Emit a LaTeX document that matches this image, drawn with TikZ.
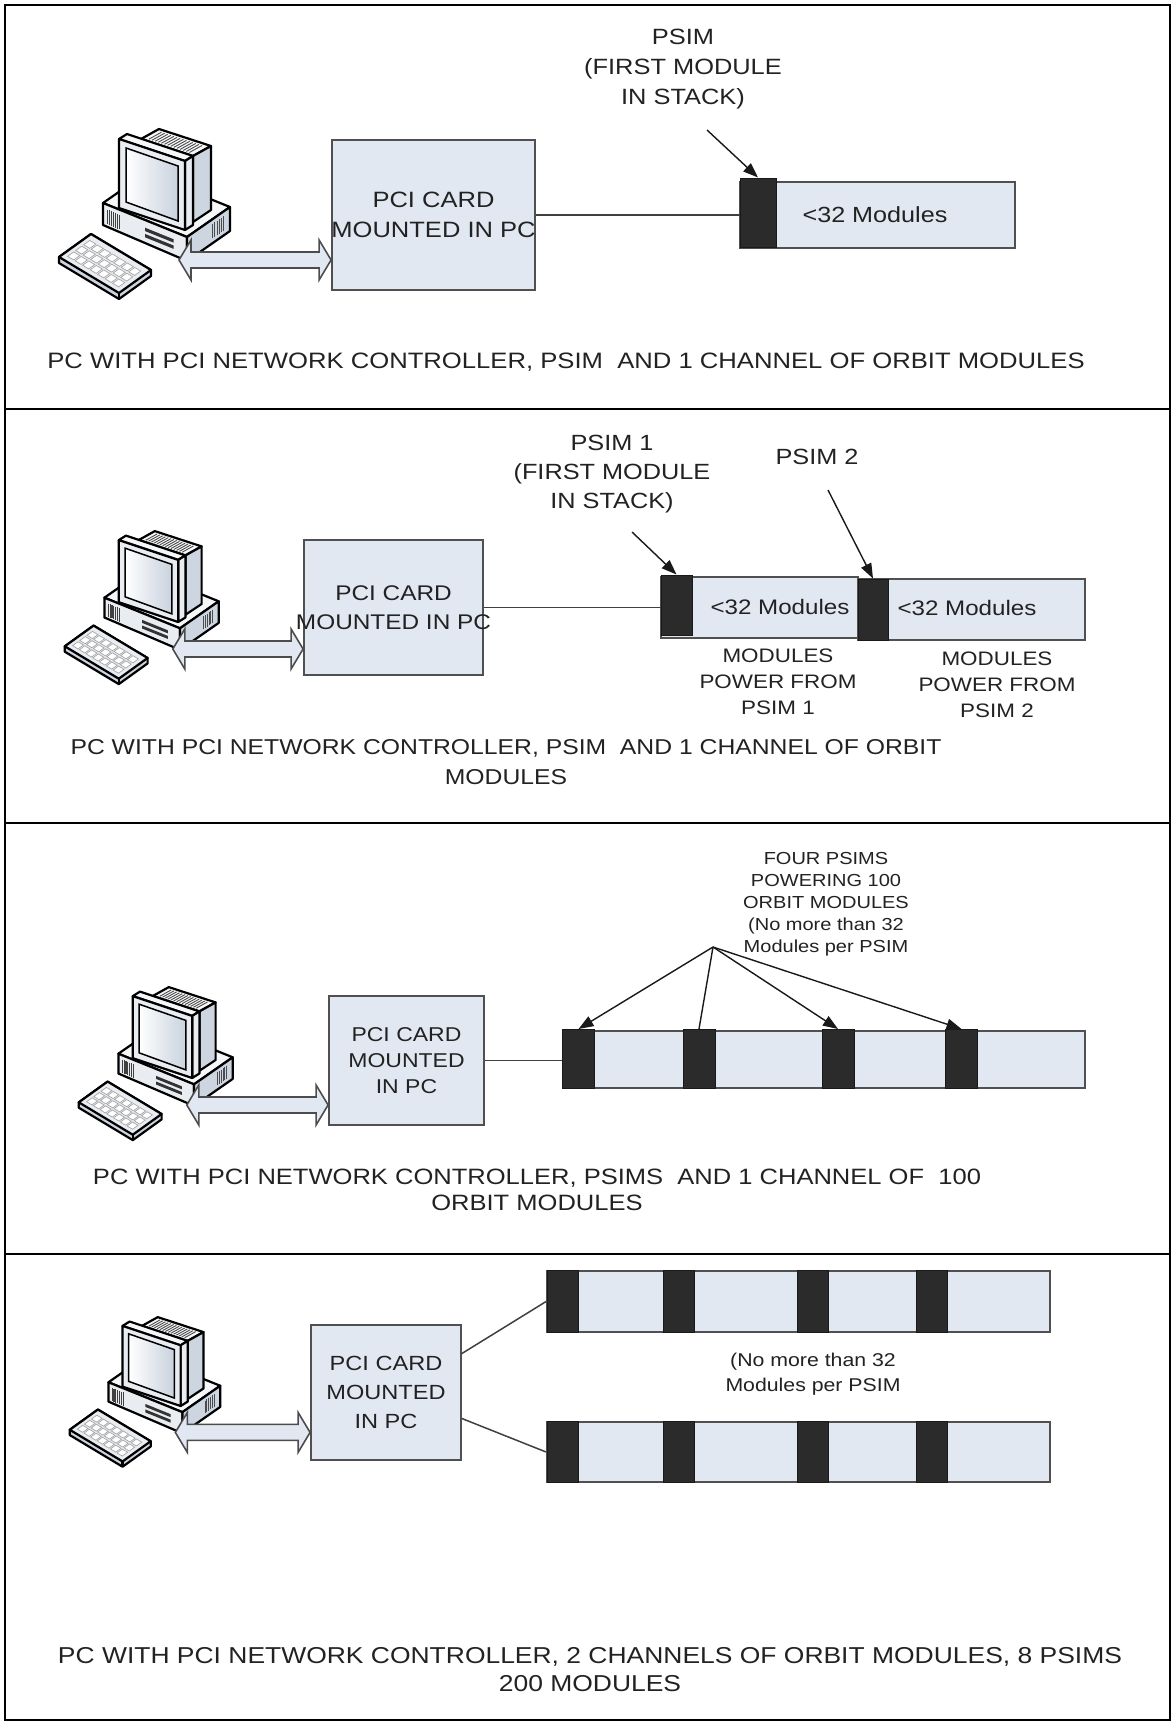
\documentclass[tikz,border=0pt]{standalone}
\usepackage{fontspec}
\setmainfont[FakeStretch=1.15]{Liberation Sans}
\usetikzlibrary{calc,arrows.meta}

\definecolor{modfill}{HTML}{E2E8F2}
\definecolor{psimfill}{HTML}{2B2B2B}
\definecolor{boxline}{HTML}{505050}
\definecolor{txt}{HTML}{222222}
\definecolor{pcface}{HTML}{E9EDF2}
\definecolor{pcside}{HTML}{CCD5E0}
\definecolor{pctop}{HTML}{F6F7F9}
\definecolor{pcscreen}{HTML}{C9D2DE}

\newcommand\setfs[2]{\fontsize{#1}{#2}\selectfont}

\tikzset{
  panelrule/.style={draw=black, line width=2.6pt},
  cardbox/.style={draw=boxline, line width=1.8pt, fill=modfill, inner sep=0pt},
  modbar/.style={draw=boxline, line width=1.8pt, fill=modfill, inner sep=0pt},
  psimblock/.style={draw=black!90, line width=1pt, fill=psimfill, inner sep=0pt},
  lbl/.style={text=txt, align=center, inner sep=0pt},
  wire/.style={draw=black!75, line width=1.5pt},
  pointer/.style={draw=black!90, line width=1.4pt, -{Triangle[length=15pt,width=11pt]}},
  pointerplain/.style={draw=black!90, line width=1.4pt},
  pcline/.style={draw=black, line width=2.2pt, line join=round},
  hollow/.style={draw=black!70, line width=1.6pt, fill=modfill, line join=miter},
}

% hollow two-headed arrow between two points on one horizontal line
\newcommand\hollowarrow[2]{%
  \path[hollow] let \p1=(#1), \p2=(#2) in
    (\x1,\y1) -- (\x1+12pt,\y1+20pt) -- (\x1+12pt,\y1+8pt) -- (\x2-12pt,\y1+8pt)
    -- (\x2-12pt,\y1+20pt) -- (\x2,\y1) -- (\x2-12pt,\y1-20pt) -- (\x2-12pt,\y1-8pt)
    -- (\x1+12pt,\y1-8pt) -- (\x1+12pt,\y1-20pt) -- cycle;}

% desktop computer: #1 name, #2 top-left corner, #3 scale
\newcommand\pcicon[3]{%
\begin{scope}[shift={#2}, scale=#3]
  % keyboard
  \path[pcline, fill=pcside] (2,127) -- (34,104) -- (94,140) -- (94,146) -- (62,169) -- (2,133) -- cycle;
  \path[pcline, fill=pcface] (2,127) -- (34,104) -- (94,140) -- (62,163) -- cycle;
  \draw[pcline] (62,163) -- (62,169);
  \begin{scope}[shift={(2,127)}, x={(32pt,23pt)}, y={(60pt,-36pt)}]
    \foreach \i in {0,1,2}{\foreach \j in {0,...,6}{%
      \pgfmathsetmacro\ka{0.14+0.25*\i}%
      \pgfmathsetmacro\kb{0.07+0.125*\j}%
      \path[draw=black!35, line width=0.7pt, fill=white]
        (\ka,\kb) -- (\ka+0.19,\kb) -- (\ka+0.19,\kb+0.1) -- (\ka,\kb+0.1) -- cycle;}}
  \end{scope}
  % system unit
  \path[pcline, fill=pctop] (46,73) -- (89,43) -- (173,77) -- (130,107) -- cycle;
  \path[pcline, fill=pcface] (46,73) -- (130,107) -- (130,131) -- (46,95) -- cycle;
  \path[pcline, fill=pcside] (130,107) -- (173,77) -- (173,101) -- (130,131) -- cycle;
  \begin{scope}[shift={(46,73)}, x={(84pt,-34pt)}, y={(0pt,-24pt)}]
    \foreach \a in {0.05,0.075,...,0.21}
      \draw[black!75, line width=1.1pt] (\a,0.2) -- (\a,0.82);
    \path[fill=black!80] (0.5,0.32) -- (0.84,0.32) -- (0.84,0.46) -- (0.5,0.46) -- cycle;
    \path[fill=black!80] (0.5,0.58) -- (0.84,0.58) -- (0.84,0.72) -- (0.5,0.72) -- cycle;
  \end{scope}
  \begin{scope}[shift={(130,107)}, x={(43pt,30pt)}, y={(0pt,-24pt)}]
    \foreach \a in {0.6,0.65,...,0.86}
      \draw[black!70, line width=1pt] (\a,0.2) -- (\a,0.8);
  \end{scope}
  % monitor housing with vents
  \path[pcline, fill=pctop] (84,9) -- (102,-1) -- (154,16) -- (136,26) -- cycle;
  \begin{scope}[shift={(84,9)}, x={(18pt,10pt)}, y={(52pt,-17pt)}]
    \foreach \b in {0.1,0.16,...,0.9}
      \draw[black!70, line width=0.9pt] (0.15,\b) -- (0.85,\b);
  \end{scope}
  \path[pcline, fill=pcside] (136,26) -- (154,16) -- (154,80) -- (136,92) -- cycle;
  % monitor bezel and screen
  \path[pcline, fill=pctop] (62,9) -- (70,4) -- (136,26) -- (128,31) -- cycle;
  \path[pcline, fill=pcface] (128,31) -- (136,26) -- (136,95) -- (128,100) -- cycle;
  \path[pcline, fill=pcface] (62,9) -- (128,31) -- (128,100) -- (62,78) -- cycle;
  \path[draw=black, line width=1.5pt, left color=white, right color=pcscreen]
    (69,18) -- (121,36) -- (121,91) -- (69,72) -- cycle;
  \coordinate (#1-port) at (122,130);
\end{scope}}

\begin{document}
\begin{tikzpicture}[x=1pt, y=-1pt]
\useasboundingbox (0,0) rectangle (1173,1724);
\fill[white] (0,0) rectangle (1173,1724);

% frame and panel separators
\draw[panelrule] (5,5) rectangle (1170,1720);
\draw[panelrule] (5,409) -- (1170,409);
\draw[panelrule] (5,823) -- (1170,823);
\draw[panelrule] (5,1254) -- (1170,1254);

%% panel 1: one PSIM
\pcicon{pc1}{(57,130)}{1}
\node[cardbox, minimum width=203pt, minimum height=150pt] (pci1) at (433.5,215) {};
\node[lbl, font=\setfs{22.2}{30}] (pci1txt) at (pci1.center) {PCI CARD\\MOUNTED IN PC};
\node[modbar, minimum width=275pt, minimum height=66pt] (chain1) at (877.5,215) {};
\node[psimblock, minimum width=36pt, minimum height=69pt] (psim1) at (758,212.5) {};
\node[lbl, font=\setfs{21.9}{26}] (mods1) at (875,215) {<32 Modules};
\node[lbl, font=\setfs{22.1}{30}] (lab1) at (683,69) {PSIM\\(FIRST MODULE\\IN STACK)};
\coordinate (lab1tail) at (707,130);
\draw[pointer] (lab1tail) -- (psim1.north);
\draw[wire] (pci1.east) -- (pci1.east -| psim1.west);
\hollowarrow{pc1-port}{pc1-port -| pci1.west}
\node[lbl, font=\setfs{22.3}{28}] (cap1) at (566,362) {PC WITH PCI NETWORK CONTROLLER, PSIM\ \ AND 1 CHANNEL OF ORBIT MODULES};

%% panel 2: two PSIMs
\pcicon{pc2}{(63,532)}{0.9}
\node[cardbox, minimum width=179pt, minimum height=135pt] (pci2) at (393.5,607.5) {};
\node[lbl, font=\setfs{21.2}{29}] (pci2txt) at (pci2.center) {PCI CARD\\MOUNTED IN PC};
\node[modbar, minimum width=197pt, minimum height=61pt] (chain2a) at (759.5,607.5) {};
\node[modbar, minimum width=227pt, minimum height=61pt] (chain2b) at (971.5,609.5) {};
\node[psimblock, minimum width=31pt, minimum height=60pt] (psim2a) at (676.5,605) {};
\node[psimblock, minimum width=30pt, minimum height=61pt] (psim2b) at (873,609.5) {};
\node[lbl, font=\setfs{21}{26}] (mods2a) at (780,607) {<32 Modules};
\node[lbl, font=\setfs{21}{26}] (mods2b) at (967,608) {<32 Modules};
\node[lbl, font=\setfs{19.5}{26}] (pow2a) at (778,682) {MODULES\\POWER FROM\\PSIM 1};
\node[lbl, font=\setfs{19.5}{26}] (pow2b) at (997,685) {MODULES\\POWER FROM\\PSIM 2};
\node[lbl, font=\setfs{22}{29}] (lab2a) at (612,474) {PSIM 1\\(FIRST MODULE\\IN STACK)};
\node[lbl, font=\setfs{22}{27}] (lab2b) at (817,457) {PSIM 2};
\coordinate (lab2atail) at (632,532);
\coordinate (lab2btail) at (828,490);
\draw[pointer] (lab2atail) -- (psim2a.north);
\draw[pointer] (lab2btail) -- (psim2b.north);
\draw[wire] (pci2.east) -- (pci2.east -| psim2a.west);
\hollowarrow{pc2-port}{pc2-port -| pci2.west}
\node[lbl, font=\setfs{21.5}{30}] (cap2) at (506,762) {PC WITH PCI NETWORK CONTROLLER, PSIM\ \ AND 1 CHANNEL OF ORBIT\\MODULES};

%% panel 3: four PSIMs on one channel
\pcicon{pc3}{(77,988)}{0.9}
\node[cardbox, minimum width=155pt, minimum height=129pt] (pci3) at (406.5,1060.5) {};
\node[lbl, font=\setfs{20}{26}] (pci3txt) at (pci3.center) {PCI CARD\\MOUNTED\\IN PC};
\node[modbar, minimum width=522pt, minimum height=57pt] (chain3) at (824,1059.5) {};
\foreach \n/\xc in {a/578.5, b/699, c/838, d/961.5}
  \node[psimblock, minimum width=32pt, minimum height=59pt] (psim3\n) at (\xc,1059) {};
\node[lbl, font=\setfs{17.4}{22}] (lab3) at (826,904) {FOUR PSIMS\\POWERING 100\\ORBIT MODULES\\(No more than 32\\Modules per PSIM};
\coordinate (hub3) at (713,947);
\draw[pointer] (hub3) -- (psim3a.north);
\draw[pointerplain] (hub3) -- (psim3b.north);
\draw[pointer] (hub3) -- (psim3c.north);
\draw[pointer] (hub3) -- (psim3d.north);
\draw[wire] (pci3.east) -- (pci3.east -| chain3.west);
\hollowarrow{pc3-port}{pc3-port -| pci3.west}
\node[lbl, font=\setfs{22.2}{26}] (cap3) at (537,1190) {PC WITH PCI NETWORK CONTROLLER, PSIMS\ \ AND 1 CHANNEL OF\ \ 100\\ORBIT MODULES};

%% panel 4: two channels, eight PSIMs
\pcicon{pc4}{(68,1318)}{0.88}
\node[cardbox, minimum width=150pt, minimum height=135pt] (pci4) at (386,1392.5) {};
\node[lbl, font=\setfs{20.5}{29}] (pci4txt) at (pci4.center) {PCI CARD\\MOUNTED\\IN PC};
\node[modbar, minimum width=503pt, minimum height=61pt] (chain4a) at (798.5,1301.5) {};
\node[modbar, minimum width=503pt, minimum height=60pt] (chain4b) at (798.5,1452) {};
\foreach \n/\xc in {1/562.5, 2/679, 3/812.5, 4/931.5}{
  \node[psimblock, minimum width=31pt, minimum height=62pt] (psim4a\n) at (\xc,1301.5) {};
  \node[psimblock, minimum width=31pt, minimum height=61pt] (psim4b\n) at (\xc,1452) {};}
\node[lbl, font=\setfs{18.5}{25}] (note4) at (813,1374) {(No more than 32\\Modules per PSIM};
\draw[wire] ($(pci4.east)+(0,-39)$) -- (chain4a.west);
\draw[wire] ($(pci4.east)+(0,26)$) -- (chain4b.west);
\hollowarrow{pc4-port}{pc4-port -| pci4.west}
\node[lbl, font=\setfs{23}{28}] (cap4) at (590,1670) {PC WITH PCI NETWORK CONTROLLER, 2 CHANNELS OF ORBIT MODULES, 8 PSIMS\\200 MODULES};
\end{tikzpicture}
\end{document}
